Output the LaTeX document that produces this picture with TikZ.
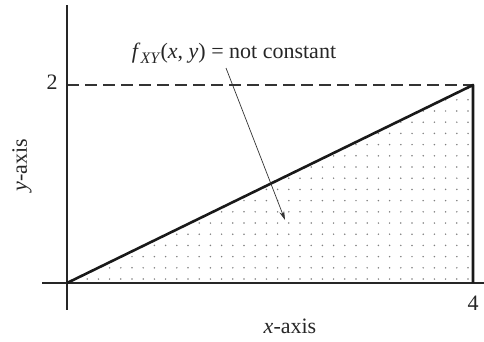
\documentclass[tikz,border=0pt]{standalone}
\usepackage{fontspec}
\setmainfont{Liberation Serif}
\usetikzlibrary{arrows.meta}
\begin{document}
\begin{tikzpicture}[x=1pt,y=-1pt,
  axis/.style={line width=1.4pt,black!85},
  edge/.style={line width=2.6pt,black!90},
  guide/.style={line width=1.2pt,black!80,dash pattern=on 12pt off 6pt},
  pointer/.style={line width=0.7pt,black!80,-{Stealth[length=9pt,width=5pt]}},
  lbl/.style={font=\fontsize{22}{25}\selectfont,inner sep=0pt,text=black!85},
  dotc/.style={fill=black!50}]
\useasboundingbox (0,0) rectangle (484,341);
\coordinate (O) at (67,283);
\coordinate (A) at (473,85);
\coordinate (B) at (473,283);
\coordinate (Ytop) at (67,5);
\coordinate (Ybot) at (67,310);
\coordinate (Xl) at (42,283);
\coordinate (Xr) at (484,283);
\coordinate (D0) at (67,85);
% dots
\begin{scope}
\clip (O) -- (A) -- (B) -- cycle;
\foreach \i in {0,...,37}{
  \foreach \j in {0,...,18}{
    \fill[dotc] ({76+\i*11.2},{279-\j*11.2}) circle (0.85pt);
  }
}
\end{scope}
\draw[guide] (D0) -- (A);
\draw[axis] (Ytop) -- (Ybot);
\draw[axis] (Xl) -- (Xr);
\draw[edge,line join=round] (O) -- (A) -- (B);
\node[lbl] (two) at (52,82) {2};
\node[lbl] (four) at (473,303) {4};
\node[lbl] (xlab) at (290,326) {\textit{x}-axis};
\node[lbl,rotate=90] (ylab) at (22,165) {\textit{y}-axis};
\node[lbl] (flab) at (234,53) {\textit{f}\raisebox{-0.22em}{\fontsize{16}{16}\selectfont\textit{XY}}(\textit{x}, \textit{y}) = not constant};
\coordinate (arrS) at (226,68);
\coordinate (arrT) at (285,220);
\draw[pointer] (arrS) -- (arrT);
\end{tikzpicture}
\end{document}
